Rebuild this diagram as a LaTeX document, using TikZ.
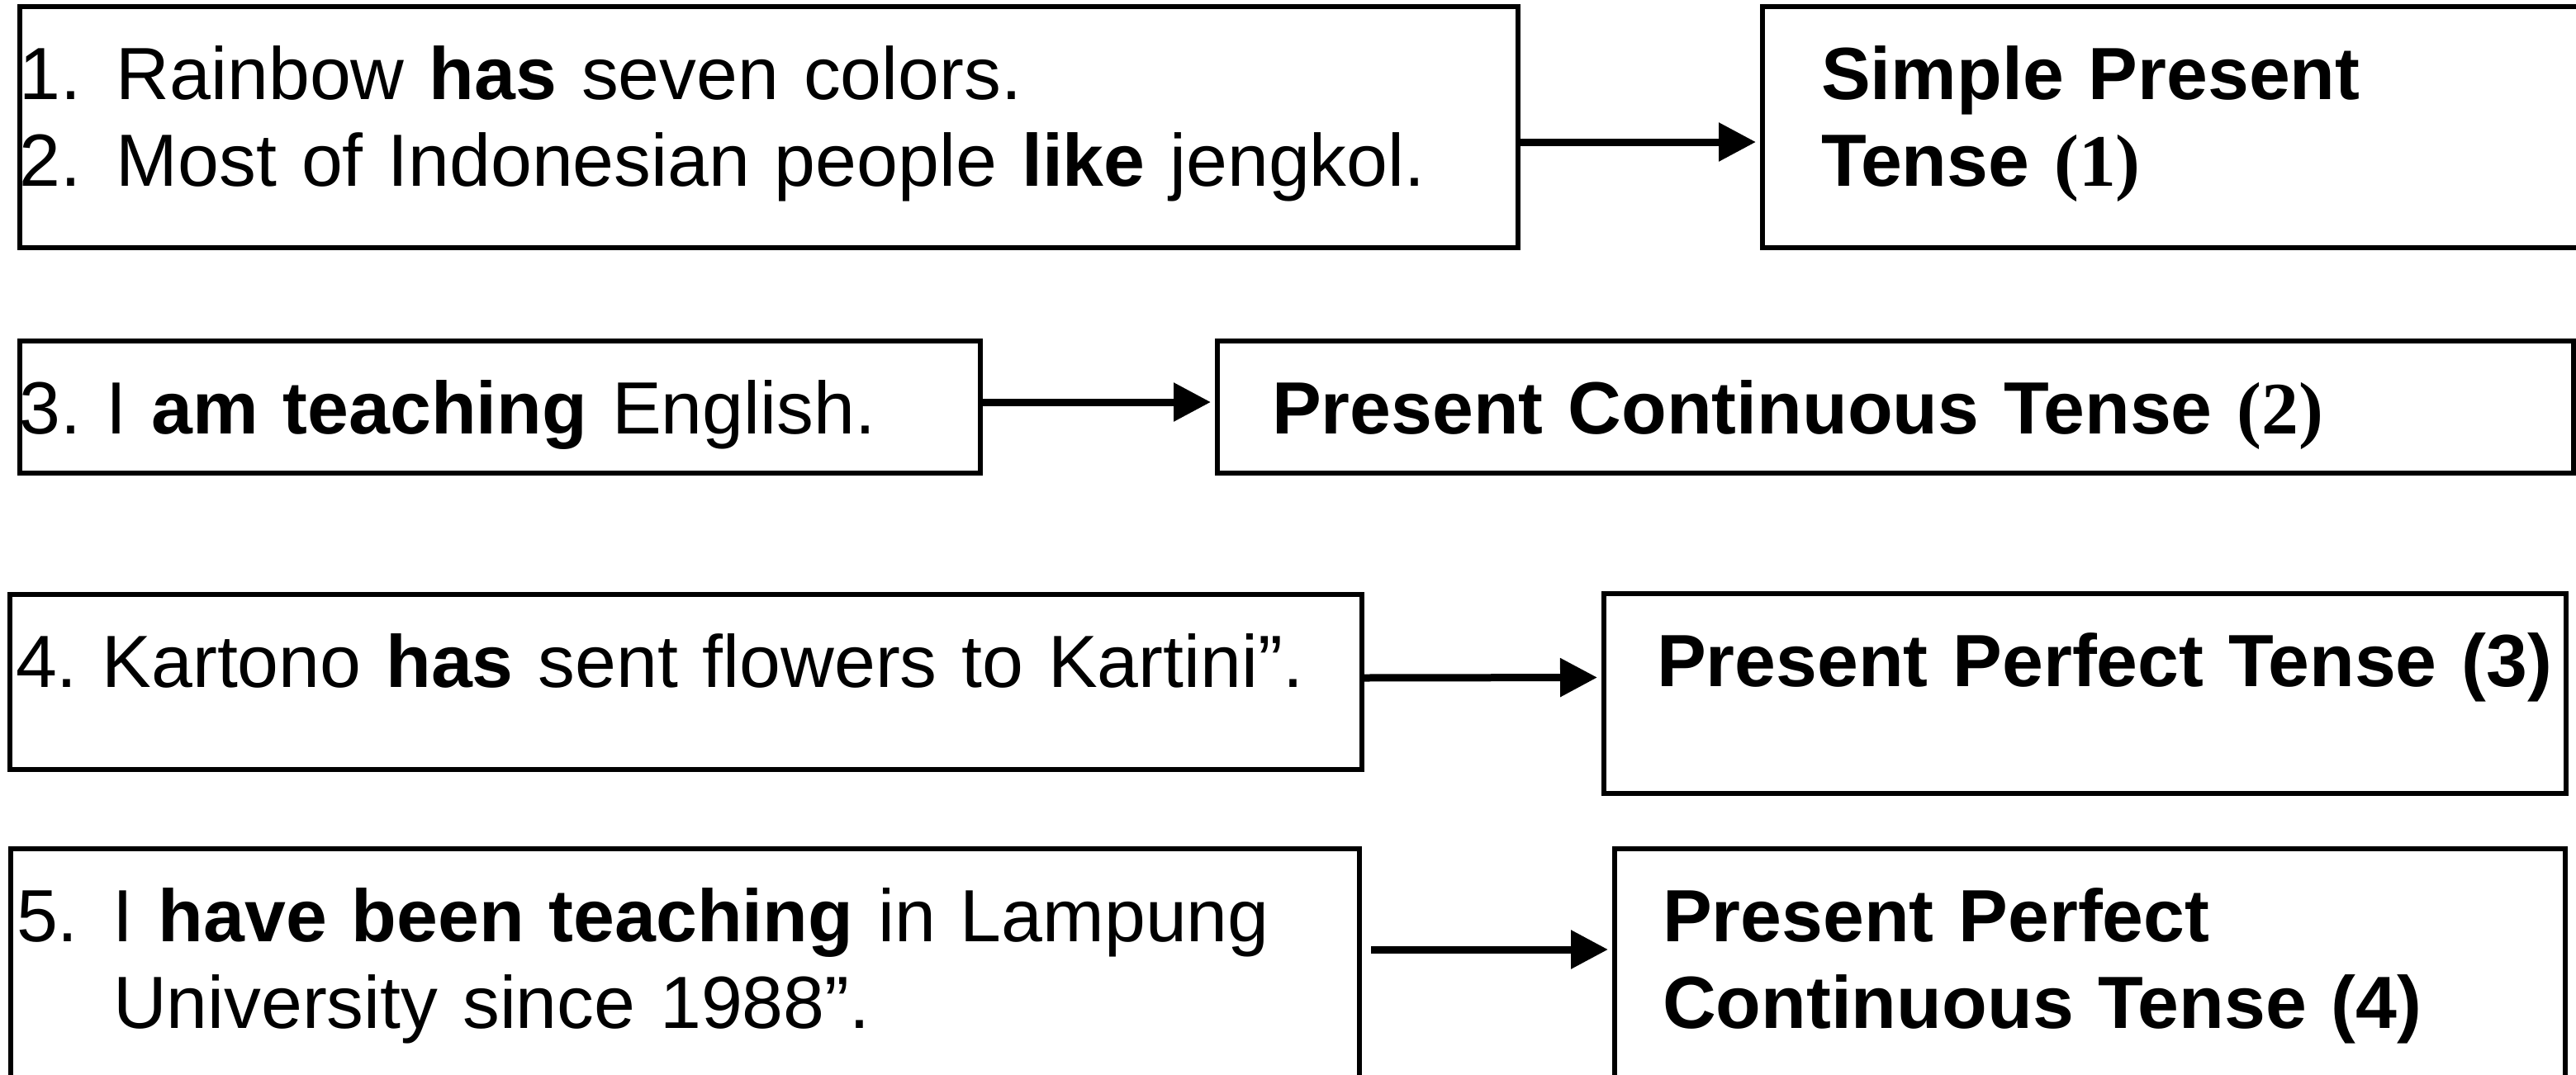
\documentclass[tikz,border=0pt]{standalone}
\usepackage{fontspec}
\setmainfont{Liberation Sans}
\newfontfamily\numfont{Liberation Serif}
\usetikzlibrary{arrows.meta}

\tikzset{
  tensebox/.style={draw, line width=0.06cm, rectangle, anchor=north west,
    inner ysep=0pt, outer sep=0pt, align=left, text height=1.12cm,
    font=\fontsize{25.5}{29.9}\selectfont\frenchspacing},
  tensearrow/.style={-{Triangle[length=0.45cm,width=0.45cm]}, line width=0.09cm,
    shorten >=0.08cm},
}
\newcommand{\numitem}[1]{\makebox[1.17cm][l]{#1}}

\begin{document}
\begin{tikzpicture}
\useasboundingbox (0,0) rectangle (31.19,-13.01);
\clip (0,0) rectangle (31.19,-13.01);

% sentences
\node [tensebox, inner xsep=0cm, text width=18.14cm, text depth=1.80cm] (sent1) at (0.24,-0.08)
  {\numitem{1.}Rainbow \textbf{has} seven colors.\\\numitem{2.}Most of Indonesian people \textbf{like} jengkol.};
\node [tensebox, inner xsep=0cm, text width=11.63cm, text depth=0.48cm] (sent2) at (0.24,-4.13)
  {3. I \textbf{am teaching} English.};
\node [tensebox, inner xsep=0.07cm, text width=16.23cm, text depth=1.00cm] (sent3) at (0.12,-7.20)
  {4. Kartono \textbf{has} sent flowers to Kartini”.};
\node [tensebox, inner xsep=0.07cm, text width=16.19cm, text depth=1.90cm] (sent4) at (0.13,-10.28)
  {\numitem{5.}I \textbf{have been teaching} in Lampung\\\numitem{}University since 1988”.};

% tenses
\node [tensebox, inner xsep=0.71cm, text width=8.59cm, text depth=1.80cm] (tense1) at (21.34,-0.08)
  {\textbf{Simple Present}\\\textbf{Tense {\numfont(1)}}};
\node [tensebox, inner xsep=0.66cm, text width=15.10cm, text depth=0.48cm] (tense2) at (14.74,-4.13)
  {\textbf{Present Continuous Tense {\numfont(2)}}};
\node [tensebox, inner xsep=0.64cm, text width=10.37cm, text depth=1.30cm] (tense3) at (19.42,-7.19)
  {\makebox[10.37cm][l]{\textbf{Present Perfect Tense (3)}}};
\node [tensebox, inner xsep=0.58cm, text width=10.35cm, text depth=1.90cm] (tense4) at (19.55,-10.28)
  {\textbf{Present Perfect}\\\textbf{Continuous Tense (4)}};

% arrows
\draw [tensearrow] ([yshift=-0.18cm]sent1.east) -- ([yshift=-0.18cm]tense1.west);
\draw [tensearrow] ([yshift=0.06cm]sent2.east) -- ([yshift=0.06cm]tense2.west);
\draw [tensearrow] ([yshift=0.05cm]sent3.east) -- ([yshift=0.195cm]tense3.west);
\draw [tensearrow, shorten <=0.14cm] ([yshift=0.29cm]sent4.east) -- ([yshift=0.29cm]tense4.west);

\end{tikzpicture}
\end{document}
